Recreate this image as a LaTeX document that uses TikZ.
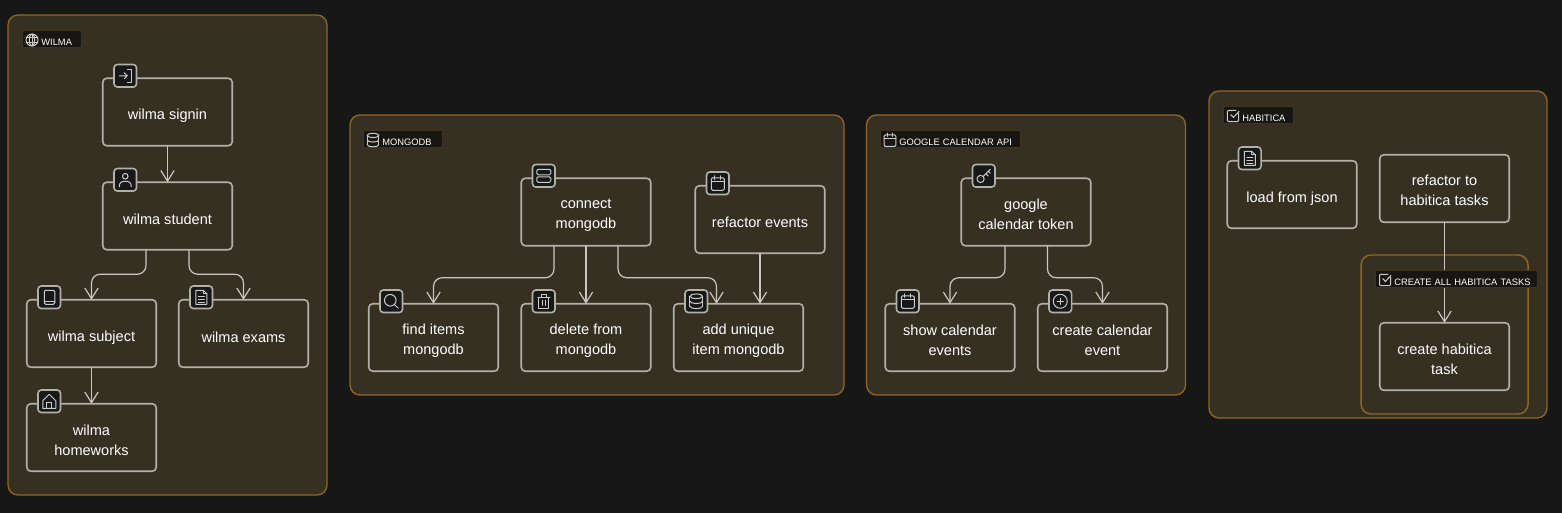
\documentclass[tikz,border=0pt]{standalone}
\usepackage{fontspec}
\setmainfont{Liberation Sans}
\usetikzlibrary{arrows.meta}

\definecolor{pagecol}{RGB}{23,23,23}
\definecolor{groupfill}{RGB}{54,48,35}
\definecolor{groupline}{RGB}{146,102,32}
\definecolor{taskline}{RGB}{178,177,168}
\definecolor{flowline}{RGB}{200,199,192}
\definecolor{iconfill}{RGB}{24,24,26}
\definecolor{iconline}{RGB}{205,205,200}
\definecolor{tagfill}{RGB}{24,22,18}
\definecolor{tagline}{RGB}{66,52,28}

\tikzset{
  groupbox/.style={draw=groupline,fill=groupfill,line width=1pt,rounded corners=7.5pt},
  subgroupbox/.style={draw=groupline,fill=groupfill,line width=1.1pt,rounded corners=7.5pt},
  taskbox/.style={draw=taskline,fill=groupfill,line width=1.2pt,rounded corners=3pt,outer sep=0pt,
    minimum width=97.1pt,minimum height=50.6pt,inner sep=0pt,align=center,text=white,
    font=\fontsize{10.9}{15}\selectfont,
    execute at begin node={\rule{0pt}{14pt}},execute at end node={\rule[-1.25pt]{0pt}{1.25pt}}},
  tasktwo/.style={taskbox,execute at begin node={\rule{0pt}{27.5pt}}},
  iconbox/.style={draw=taskline,fill=iconfill,line width=1.2pt,rounded corners=2.5pt,outer sep=0pt,
    minimum size=16.9pt,inner sep=0pt},
  tagbox/.style={anchor=west,draw=tagline,fill=tagfill,line width=.6pt,inner xsep=0pt,inner ysep=0pt,
    text width=#1,align=left,text height=11.6pt,text depth=1.15pt,text=white,
    font=\fontsize{7}{8.4}\selectfont},
  flow/.style={draw=flowline,line width=.9pt,rounded corners=6.5pt,-{Straight Barb[length=8pt,width=10pt]}},
  stroke/.style={draw=iconline,line width=.75pt,line join=round,line cap=round},
  pics/loginicon/.style={code={
    \draw[stroke] (-6,0) -- (2,0) (-1,-3) -- (2,0) -- (-1,3);
    \draw[stroke] (2,-6.5) -- (6,-6.5) -- (6,6.5) -- (2,6.5);}},
  pics/usericon/.style={code={
    \draw[stroke] (0,-3.5) circle (2.8);
    \draw[stroke] (-6,7) .. controls (-6,2.5) and (-3.5,1.5) .. (0,1.5) .. controls (3.5,1.5) and (6,2.5) .. (6,7);}},
  pics/bookicon/.style={code={
    \draw[stroke,rounded corners=1pt] (-5,-7) rectangle (5.5,7);
    \draw[stroke] (-5,4) -- (5.5,4);}},
  pics/fileicon/.style={code={
    \draw[stroke] (-5.5,-7) -- (2,-7) -- (5.5,-3.5) -- (5.5,7) -- (-5.5,7) -- cycle;
    \draw[stroke] (2,-7) -- (2,-3.5) -- (5.5,-3.5);
    \draw[stroke] (-3,-1) -- (3,-1) (-3,2) -- (3,2) (-3,4.8) -- (3,4.8);}},
  pics/homeicon/.style={code={
    \draw[stroke] (-6.5,-0.5) -- (0,-7) -- (6.5,-0.5) -- (6.5,7) -- (-6.5,7) -- cycle;
    \draw[stroke] (-2.5,7) -- (-2.5,1.5) -- (2.5,1.5) -- (2.5,7);}},
  pics/servericon/.style={code={
    \draw[stroke,rounded corners=1pt] (-7,-6.5) rectangle (7,-1);
    \draw[stroke,rounded corners=1pt] (-7,1) rectangle (7,6.5);}},
  pics/calendaricon/.style={code={
    \draw[stroke,rounded corners=1pt] (-6.5,-5.5) rectangle (6.5,7);
    \draw[stroke] (-6.5,-2) -- (6.5,-2) (-3,-7.5) -- (-3,-4) (3,-7.5) -- (3,-4);}},
  pics/searchicon/.style={code={
    \draw[stroke] (-1,-1) circle (5.8);
    \draw[stroke] (3.2,3.2) -- (7,7);}},
  pics/trashicon/.style={code={
    \draw[stroke] (-6,-4) -- (6,-4) (-2.5,-4) -- (-2.5,-7) -- (2.5,-7) -- (2.5,-4);
    \draw[stroke] (-5,-4) -- (-5,7) -- (5,7) -- (5,-4);
    \draw[stroke] (-1.5,-1) -- (-1.5,4) (1.5,-1) -- (1.5,4);}},
  pics/databaseicon/.style={code={
    \draw[stroke] (0,-5) ellipse (6.3 and 2.3);
    \draw[stroke] (-6.3,-5) -- (-6.3,5) (6.3,-5) -- (6.3,5);
    \draw[stroke] (-6.3,0) .. controls (-6,3) and (6,3) .. (6.3,0);
    \draw[stroke] (-6.3,5) .. controls (-6,8.2) and (6,8.2) .. (6.3,5);}},
  pics/keyicon/.style={code={
    \draw[stroke] (-3.2,3.2) circle (3.6);
    \draw[stroke] (-0.6,0.6) -- (6.5,-6.5) (2,-2) -- (4.5,0.2) (4.5,-4.5) -- (6.5,-2.5);}},
  pics/plusicon/.style={code={
    \draw[stroke] (0,0) circle (7);
    \draw[stroke] (-3,0) -- (3,0) (0,-3) -- (0,3);}},
  pics/checkicon/.style={code={
    \draw[stroke] (6,-3) -- (6,5) -- (5,6) -- (-5,6) -- (-6,5) -- (-6,-5) -- (-5,-6) -- (3,-6);
    \draw[stroke] (-2.5,-1.5) -- (0.5,1.5) -- (6.5,-5);}},
  pics/globeicon/.style={code={
    \draw[stroke] (0,0) circle (6.5);
    \draw[stroke] (0,0) ellipse (3 and 6.5);
    \draw[stroke] (-6.5,-2.2) -- (6.5,-2.2) (-6.5,2.2) -- (6.5,2.2) (0,-6.5) -- (0,6.5);}}
}

% icon badge on the top left of a task
\newcommand{\taskicon}[2]{
  \node [iconbox] (#1icon) at ([shift={(22.5,-2.5)}]#1.north west) {};
  \pic [transform shape] at (#1icon) {#2};
}
\newcommand{\tagicon}[2]{
  \pic [scale=.92,transform shape] at ([shift={(10,1.5)}]#1.west) {#2};
}

\begin{document}
\begin{tikzpicture}[x=0.75pt,y=0.75pt,yscale=-1,xscale=1]
\useasboundingbox (0,0) rectangle (1562,513);
\fill [pagecol] (0,0) rectangle (1562,513);

%Shape: Groups
\draw [groupbox] (8,15) rectangle (327,495);
\draw [groupbox] (350,115) rectangle (844,395);
\draw [groupbox] (866.5,115) rectangle (1185.5,395);
\draw [groupbox] (1209,91) rectangle (1547,418);
\draw [subgroupbox] (1361,255) rectangle (1528,414);

%Wilma tasks
\node [taskbox] (signin) at (167.5,112) {wilma signin};
\node [taskbox] (student) at (167.5,216) {wilma student};
\node [taskbox] (subject) at (91.5,333.5) {wilma subject};
\node [taskbox] (exams) at (243.5,333.5) {wilma exams};
\node [tasktwo] (homeworks) at (91.5,437.5) {wilma\\homeworks};

%Mongodb tasks
\node [tasktwo] (connect) at (586,212) {connect\\mongodb};
\node [taskbox] (refactorevents) at (760,219.5) {refactor events};
\node [tasktwo] (finditems) at (433.5,337.5) {find items\\mongodb};
\node [tasktwo] (deletefrom) at (586,337.5) {delete from\\mongodb};
\node [tasktwo] (adduniq) at (738.5,337.5) {add unique\\item mongodb};

%Calendar tasks
\node [tasktwo] (token) at (1026,212) {google\\calendar token};
\node [tasktwo] (showevents) at (950,337.5) {show calendar\\events};
\node [tasktwo] (createevent) at (1102.5,337.5) {create calendar\\event};

%Habitica tasks
\node [taskbox] (loadjson) at (1292,194.5) {load from json};
\node [tasktwo] (refactortasks) at (1444.5,188.5) {refactor to\\habitica tasks};
\node [tasktwo] (createtask) at (1444.5,356.5) {create habitica\\task};

%Connectors
\draw [flow] (signin) -- (student);
\draw [flow] ([shift={(-21.5,0)}]student.south) -- ++(0,24.5) -| (subject.north);
\draw [flow] ([shift={(21.5,0)}]student.south) -- ++(0,24.5) -| (exams.north);
\draw [flow] (subject) -- (homeworks);
\draw [flow] ([shift={(-32,0)}]connect.south) -- ++(0,32) -| (finditems.north);
\draw [flow] (connect) -- (deletefrom);
\draw [flow] ([shift={(32,0)}]connect.south) -- ++(0,32) -| ([shift={(-22,0)}]adduniq.north);
\draw [flow] (refactorevents) -- (adduniq.north -| refactorevents);
\draw [flow] ([shift={(-21,0)}]token.south) -- ++(0,32) -| (showevents.north);
\draw [flow] ([shift={(21.5,0)}]token.south) -- ++(0,32) -| (createevent.north);
\draw [flow] (refactortasks) -- (createtask);

%Task icons
\taskicon{signin}{loginicon}
\taskicon{student}{usericon}
\taskicon{subject}{bookicon}
\taskicon{exams}{fileicon}
\taskicon{homeworks}{homeicon}
\taskicon{connect}{servericon}
\taskicon{refactorevents}{calendaricon}
\taskicon{finditems}{searchicon}
\taskicon{deletefrom}{trashicon}
\taskicon{adduniq}{databaseicon}
\taskicon{token}{keyicon}
\taskicon{showevents}{calendaricon}
\taskicon{createevent}{plusicon}
\taskicon{loadjson}{fileicon}

%Group tags
\node [tagbox=44.25pt] (wilmatag) at (22,38.5) {\hspace*{14.25pt}WILMA};
\tagicon{wilmatag}{globeicon}
\node [tagbox=59.25pt] (mongotag) at (363,138.5) {\hspace*{14.25pt}MONGODB};
\tagicon{mongotag}{databaseicon}
\node [tagbox=105pt] (calendartag) at (880,138.5) {\hspace*{14.25pt}GOOGLE CALENDAR API};
\tagicon{calendartag}{calendaricon}
\node [tagbox=52.5pt] (habiticatag) at (1223,114.5) {\hspace*{14.25pt}HABITICA};
\tagicon{habiticatag}{checkicon}
\node [tagbox=121.5pt] (createalltag) at (1375,278.5) {\hspace*{14.25pt}CREATE ALL HABITICA TASKS};
\tagicon{createalltag}{checkicon}
\end{tikzpicture}
\end{document}
